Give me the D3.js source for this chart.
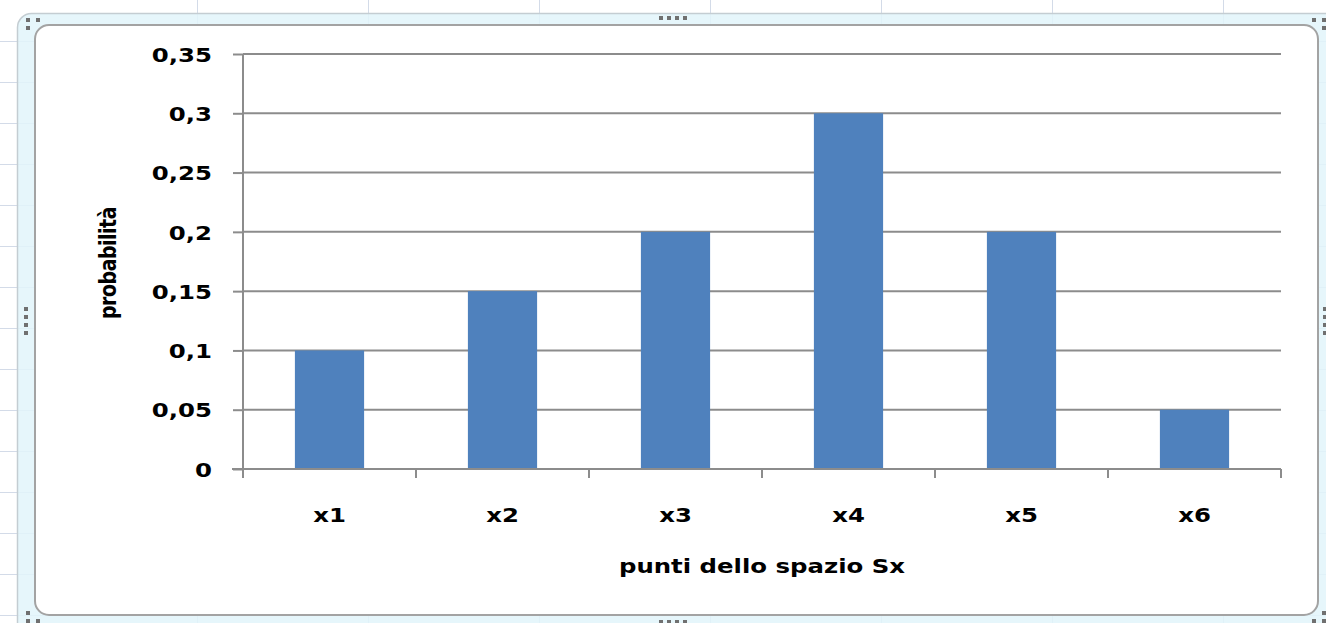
<!DOCTYPE html>
<html>
<head>
<meta charset="utf-8">
<script src="https://cdn.jsdelivr.net/npm/d3@7"></script>
<style>
  html, body { margin: 0; padding: 0; background: #ffffff; overflow: hidden; }
  svg { display: block; }
</style>
</head>
<body>
<svg id="chart" width="1326" height="623"></svg>
<script>
// Probability distribution over the sample points of Sx
const categories = ["x1", "x2", "x3", "x4", "x5", "x6"];
const probabilities = [0.1, 0.15, 0.2, 0.3, 0.2, 0.05];
const yTicks = [0, 0.05, 0.1, 0.15, 0.2, 0.25, 0.3, 0.35];
const yTickLabels = ["0", "0,05", "0,1", "0,15", "0,2", "0,25", "0,3", "0,35"];
const xTitle = "punti dello spazio Sx";
const yTitle = "probabilità";

const W = 1326, H = 623;
const FONT = "'DejaVu Sans', Verdana, sans-serif";
const SX = 1.22;               // wide lettering of the worksheet rendering
const GRID = "#8c8c8c";
const BAR = "#4f81bd";

const svg = d3.select("#chart");

// ---- worksheet behind the chart ----
const sheet = svg.append("g");
sheet.append("rect").attr("width", W).attr("height", H).attr("fill", "#ffffff");
const rowLines = d3.range(41, H, 41);
const colLines = d3.range(197, W, 171);
sheet.selectAll("line.row").data(rowLines).join("line")
  .attr("x1", 0).attr("x2", W).attr("y1", d => d + 0.5).attr("y2", d => d + 0.5)
  .attr("stroke", "#d3dbe8").attr("stroke-width", 1);
sheet.selectAll("line.col").data(colLines).join("line")
  .attr("x1", d => d + 0.5).attr("x2", d => d + 0.5).attr("y1", 0).attr("y2", H)
  .attr("stroke", "#d3dbe8").attr("stroke-width", 1);

// selection frame of the embedded chart
sheet.append("rect")
  .attr("x", 17.5).attr("y", 13.5).attr("width", 1330).attr("height", 630)
  .attr("rx", 14)
  .attr("fill", "#e2f5fa").attr("fill-opacity", 0.85)
  .attr("stroke", "#c4cdd2").attr("stroke-width", 1.5);

// chart area
svg.append("rect")
  .attr("x", 35).attr("y", 25).attr("width", 1283).attr("height", 590)
  .attr("rx", 14)
  .attr("fill", "#ffffff")
  .attr("stroke", "#a3a3a3").attr("stroke-width", 2);

// sizing handles
const handles = [
  [26, 18], [36, 18], [26, 26],
  [1312, 18], [1322, 18], [1322, 26],
  [26, 611], [26, 619], [36, 619],
  [1312, 619], [1322, 619], [1322, 611],
  [659, 16], [667, 16], [675, 16], [683, 16],
  [659, 620], [667, 620], [675, 620], [683, 620],
  [24, 307], [24, 315], [24, 323], [24, 331],
  [1323, 307], [1323, 315], [1323, 323], [1323, 331]
];
svg.append("g").selectAll("rect").data(handles).join("rect")
  .attr("x", d => d[0]).attr("y", d => d[1])
  .attr("width", 4).attr("height", 4)
  .attr("fill", "#707070");

// ---- plot ----
const plot = { left: 243, right: 1281, top: 54, bottom: 469 };

const x = d3.scaleBand()
  .domain(categories)
  .range([plot.left, plot.right])
  .paddingInner(0.6)
  .paddingOuter(0.3);

const y = d3.scaleLinear()
  .domain([0, 0.35])
  .range([plot.bottom, plot.top]);

// horizontal gridlines
svg.append("g").selectAll("line").data(yTicks.filter(v => v > 0)).join("line")
  .attr("x1", plot.left).attr("x2", plot.right)
  .attr("y1", d => y(d)).attr("y2", d => y(d))
  .attr("stroke", GRID).attr("stroke-width", 2);

// bars
svg.append("g").selectAll("rect").data(probabilities).join("rect")
  .attr("x", (d, i) => x(categories[i]))
  .attr("y", d => y(d))
  .attr("width", x.bandwidth())
  .attr("height", d => y(0) - y(d))
  .attr("fill", BAR);

// y axis
const yAxis = svg.append("g")
  .attr("transform", `translate(${plot.left},0)`)
  .call(d3.axisLeft(y)
    .tickValues(yTicks)
    .tickSize(10)
    .tickSizeOuter(0)
    .tickFormat((d, i) => yTickLabels[i]));
yAxis.select(".domain").attr("stroke", GRID).attr("stroke-width", 2)
  .attr("d", `M0,${plot.top}V${plot.bottom + 9}`);
yAxis.selectAll(".tick line").attr("stroke", GRID).attr("stroke-width", 2);
yAxis.selectAll(".tick text")
  .attr("x", null).attr("dy", "0.36em")
  .attr("transform", `translate(-31,0) scale(${SX},1)`)
  .attr("fill", "#000")
  .style("font-family", FONT).style("font-size", "20px").style("font-weight", "bold");

// x axis line, category boundary ticks and labels
const xAxis = svg.append("g")
  .attr("transform", `translate(0,${plot.bottom})`)
  .call(d3.axisBottom(x).tickSize(0).tickSizeOuter(0));
xAxis.select(".domain").attr("stroke", GRID).attr("stroke-width", 2)
  .attr("d", `M${plot.left - 11},0H${plot.right}`);
xAxis.selectAll(".tick text")
  .attr("y", null).attr("dy", null)
  .attr("transform", `translate(0,53) scale(${SX},1)`)
  .attr("fill", "#000")
  .style("font-family", FONT).style("font-size", "20px").style("font-weight", "bold");

const boundaries = d3.range(categories.length + 1).map(i => x.range()[0] + i * x.step());
xAxis.append("g").selectAll("line").data(boundaries).join("line")
  .attr("x1", d => d).attr("x2", d => d)
  .attr("y1", 0).attr("y2", 9)
  .attr("stroke", GRID).attr("stroke-width", 2);

// axis titles
svg.append("text")
  .attr("transform", `translate(${(plot.left + plot.right) / 2},573) scale(${SX},1)`)
  .attr("text-anchor", "middle")
  .attr("fill", "#000")
  .style("font-family", FONT).style("font-size", "20px").style("font-weight", "bold")
  .text(xTitle);

svg.append("text")
  .attr("transform", `translate(116,263) scale(${SX},1) rotate(-90)`)
  .attr("text-anchor", "middle")
  .attr("fill", "#000")
  .style("font-family", FONT).style("font-size", "19px").style("font-weight", "bold")
  .style("letter-spacing", "-0.5px")
  .text(yTitle);
</script>
</body>
</html>
